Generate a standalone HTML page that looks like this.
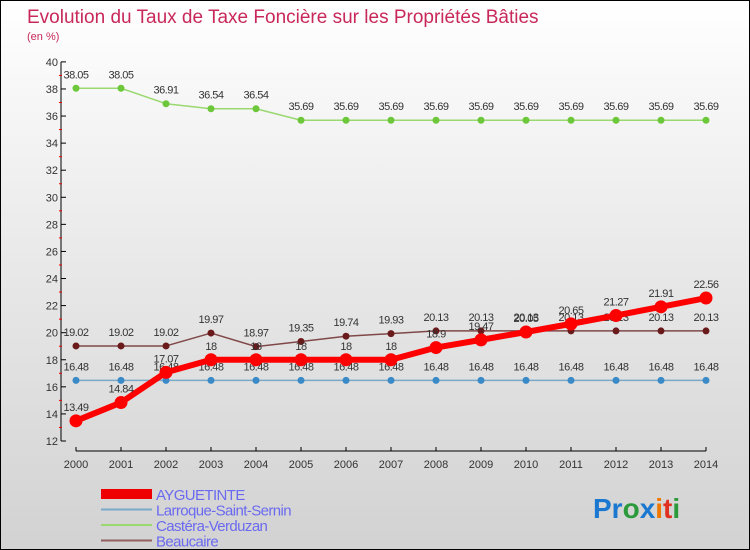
<!DOCTYPE html>
<html><head><meta charset="utf-8"><style>
body{margin:0}
#c{position:relative;width:748px;height:548px;border:1px solid #000;background:linear-gradient(#fff 0%,#ececec 40%,#d2d2d2 100%);overflow:hidden;font-family:"Liberation Sans","DejaVu Sans",sans-serif}
text{font-family:"Liberation Sans","DejaVu Sans",sans-serif}
</style></head><body>
<div id="c">
<svg id="s" width="748" height="548">
<text x="26" y="22" font-size="19" fill="#c8285a">Evolution du Taux de Taxe Foncière sur les Propriétés Bâties</text>
<text x="26" y="39" font-size="11" fill="#c8285a">(en %)</text>
<g id="g"></g>
<text x="592" y="517" font-size="28" font-weight="bold"><tspan fill="#1a78d0">Pr</tspan><tspan fill="#2a9a3a">o</tspan><tspan fill="#1a78d0">x</tspan><tspan fill="#f07800">i</tspan><tspan fill="#e03020">t</tspan><tspan fill="#2a9a3a">i</tspan></text>
</svg>
</div>
<script>
const years=[2000,2001,2002,2003,2004,2005,2006,2007,2008,2009,2010,2011,2012,2013,2014];
const ayguetinte=[13.49,14.84,17.07,18,18,18,18,18,18.9,19.47,20.05,20.65,21.27,21.91,22.56];
const larroque=[16.48,16.48,16.48,16.48,16.48,16.48,16.48,16.48,16.48,16.48,16.48,16.48,16.48,16.48,16.48];
const castera=[38.05,38.05,36.91,36.54,36.54,35.69,35.69,35.69,35.69,35.69,35.69,35.69,35.69,35.69,35.69];
const beaucaire=[19.02,19.02,19.02,19.97,18.97,19.35,19.74,19.93,20.13,20.13,20.13,20.13,20.13,20.13,20.13];
const yTicks=[12,14,16,18,20,22,24,26,28,30,32,34,36,38,40];
const seriesNames=["AYGUETINTE","Larroque-Saint-Sernin","Castéra-Verduzan","Beaucaire"];
const NS="http://www.w3.org/2000/svg";
const g=document.getElementById('g');
const X=i=>75+i*45;
const Y=v=>440-(v-12)*13.54;
function el(t,a,p){const e=document.createElementNS(NS,t);for(const k in a)e.setAttribute(k,a[k]);(p||g).appendChild(e);return e;}
// axes
let ax=el('line',{x1:60,y1:Y(40),x2:60,y2:Y(12),stroke:'#000'});


let bx=el('line',{x1:75,y1:450,x2:705,y2:450,stroke:'#000'});


yTicks.forEach(v=>{
 el('line',{x1:60,y1:Y(v),x2:65,y2:Y(v),stroke:'#000'});
 if(v<40) el('line',{x1:58,y1:Y(v+1),x2:61,y2:Y(v+1),stroke:'#e00'});
 const t=el('text',{x:57,y:Y(v)+4,'font-size':11,'text-anchor':'end',fill:'#333'});
 
 
 t.textContent=v;
});
years.forEach((yr,i)=>{
 el('line',{x1:X(i),y1:446,x2:X(i),y2:450,stroke:'#000'});
 const t=el('text',{x:X(i),y:467,'font-size':11,'text-anchor':'middle',fill:'#333'});
 
 
 t.textContent=yr;
});
function series(data,color,dot,w,r,name){
 const sg=el('g',{});
 
 
 const p=el('polyline',{points:data.map((v,i)=>X(i)+','+Y(v)).join(' '),fill:'none',stroke:color,'stroke-width':w,'stroke-linejoin':'round'},sg);
 
 
 data.forEach((v,i)=>{
  const c=el('circle',{cx:X(i),cy:Y(v),r:r,fill:dot},sg);
  
  
  const t=el('text',{x:X(i),y:Y(v)-10,'font-size':11,'text-anchor':'middle',fill:'#333','letter-spacing':'-0.5'},sg);
  
  
  t.textContent=v;
 });
}
series(larroque,'#7aa8c8','#3a8ac8',1.5,3.5,'larroque');
series(castera,'#9ad870','#6cc83a',1.5,3.5,'castera');
series(beaucaire,'#804848','#6a1a1a',1.5,3.5,'beaucaire');
series(ayguetinte,'#ff0000','#ff0000',6,6.5,'ayguetinte');
// legend
const lc=['#ee0000','#7aa8c8','#9ad870','#906060'],lw=[10,2,2,2];
seriesNames.forEach((n,i)=>{
 const y=493+i*15.5;
 const l=el('line',{x1:100,y1:y,x2:151,y2:y,stroke:lc[i],'stroke-width':lw[i]});
 
 
 const t=el('text',{x:155,y:y+6,'font-size':15,fill:'#6a6af0','letter-spacing':'-0.6'});
 
 
 t.textContent=n;
});
</script>
</body></html>
